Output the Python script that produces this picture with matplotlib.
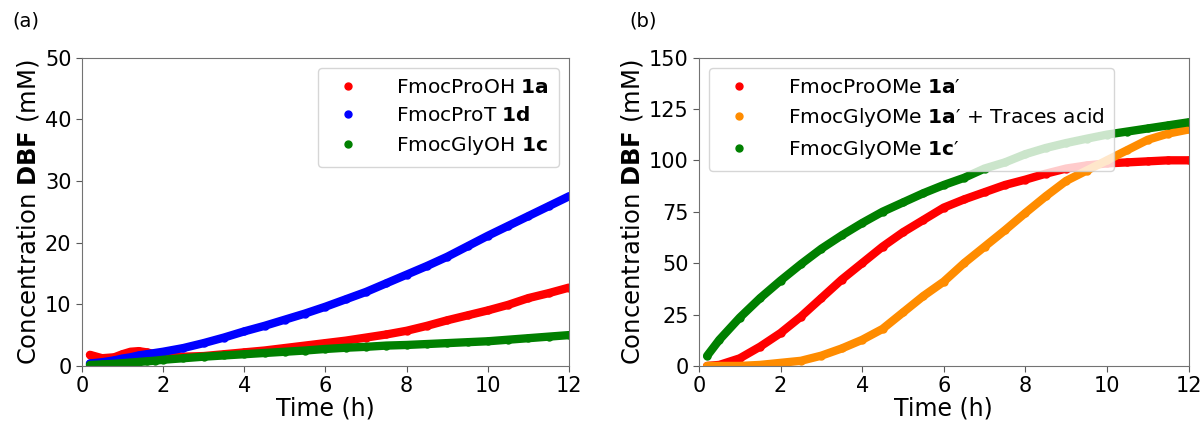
import matplotlib
matplotlib.use("Agg")
import matplotlib.pyplot as plt

# panel (a): free acids / thioester
t_a = [0.2, 0.5, 0.8, 1.0, 1.2, 1.4, 1.6, 1.8, 2.0, 2.5, 3.0, 3.5, 4.0, 4.5,
       5.0, 5.5, 6.0, 6.5, 7.0, 7.5, 8.0, 8.5, 9.0, 9.5, 10.0, 10.5, 11.0,
       11.5, 12.0]
pro_oh = [1.8, 1.25, 1.4, 1.9, 2.3, 2.4, 2.2, 1.9, 1.7, 1.5, 1.6, 1.9, 2.2,
          2.5, 2.9, 3.3, 3.7, 4.1, 4.6, 5.1, 5.7, 6.5, 7.4, 8.2, 9.0, 9.9,
          11.0, 11.8, 12.7]
pro_t = [0.4, 0.6, 0.9, 1.2, 1.4, 1.7, 1.9, 2.1, 2.3, 2.9, 3.7, 4.6, 5.6,
         6.5, 7.5, 8.5, 9.6, 10.8, 12.0, 13.4, 14.8, 16.2, 17.7, 19.4, 21.1,
         22.7, 24.3, 25.9, 27.5]
gly_oh = [0.15, 0.25, 0.35, 0.45, 0.55, 0.65, 0.75, 0.85, 1.0, 1.25, 1.5,
          1.7, 1.9, 2.1, 2.3, 2.5, 2.75, 2.95, 3.1, 3.3, 3.4, 3.55, 3.7, 3.85,
          4.0, 4.25, 4.5, 4.75, 5.0]

# panel (b): methyl esters
t_b = [0.2, 0.5, 1.0, 1.5, 2.0, 2.5, 3.0, 3.5, 4.0, 4.5, 5.0, 5.5, 6.0, 6.5,
       7.0, 7.5, 8.0, 8.5, 9.0, 9.5, 10.0, 10.5, 11.0, 11.5, 12.0]
pro_ome = [0, 0.5, 3.7, 9.4, 16, 24, 33, 42, 50, 58, 65, 71, 77, 81, 84.5,
           88, 90.6, 93.5, 96, 97.5, 98.5, 99, 99.5, 100, 100]
gly_ome_acid = [0, 0, 0, 0.5, 1.5, 2.5, 5, 8.5, 12.7, 18, 26, 34, 41, 50, 58,
                66, 74.4, 82.5, 90, 95, 100, 105, 110, 113, 115]
gly_ome = [4.9, 12.7, 23.5, 33, 41.5, 49.5, 57, 63.5, 69.5, 75, 79.5, 84, 88,
           91.5, 96, 99, 103, 106, 108.4, 110.5, 112.5, 114, 115.5, 117, 118.5]

series_a = [(pro_oh, "red", r"FmocProOH $\mathbf{1a}$"),
            (pro_t, "blue", r"FmocProT $\mathbf{1d}$"),
            (gly_oh, "green", r"FmocGlyOH $\mathbf{1c}$")]
series_b = [(pro_ome, "red", "FmocProOMe $\\mathbf{1a}$\u2032"),
            (gly_ome_acid, "darkorange",
             "FmocGlyOMe $\\mathbf{1a}$\u2032 + Traces acid"),
            (gly_ome, "green", "FmocGlyOMe $\\mathbf{1c}$\u2032")]


def draw(ax, t, series, ymax, yticks, loc):
    for y, c, lab in series:
        ax.plot(t, y, "-", color=c, lw=6, solid_capstyle="round")
        ax.plot(t, y, "o", color=c, ms=5, label=lab)
    ax.set_xlim(0, 12)
    ax.set_ylim(0, ymax)
    ax.set_xticks([0, 2, 4, 6, 8, 10, 12])
    ax.set_yticks(yticks)
    ax.tick_params(labelsize=15, color="0.35", length=4)
    for s in ax.spines.values():
        s.set_color("0.45")
    ax.set_xlabel("Time (h)", fontsize=17, labelpad=0)
    ax.set_ylabel(r"Concentration $\mathbf{DBF}$ (mM)", fontsize=17.5,
                  labelpad=3)
    ax.legend(loc=loc, fontsize=14.5, handlelength=2.0, handletextpad=1.4,
              borderpad=0.5, labelspacing=0.45)


def main():
    fig = plt.figure(figsize=(12.03, 4.26), dpi=100)
    plt.rcParams["mathtext.fontset"] = "dejavusans"
    ax1 = fig.add_axes([0.068, 0.141, 0.405, 0.724])
    ax2 = fig.add_axes([0.581, 0.141, 0.407, 0.724])

    draw(ax1, t_a, series_a, 50, [0, 10, 20, 30, 40, 50], "upper right")
    draw(ax2, t_b, series_b, 150, [0, 25, 50, 75, 100, 125, 150],
         "upper left")

    fig.text(0.010, 0.95, "(a)", fontsize=14, va="center")
    fig.text(0.523, 0.95, "(b)", fontsize=14, va="center")
    fig.savefig("out.png", dpi=100)


if __name__ == "__main__":
    main()
